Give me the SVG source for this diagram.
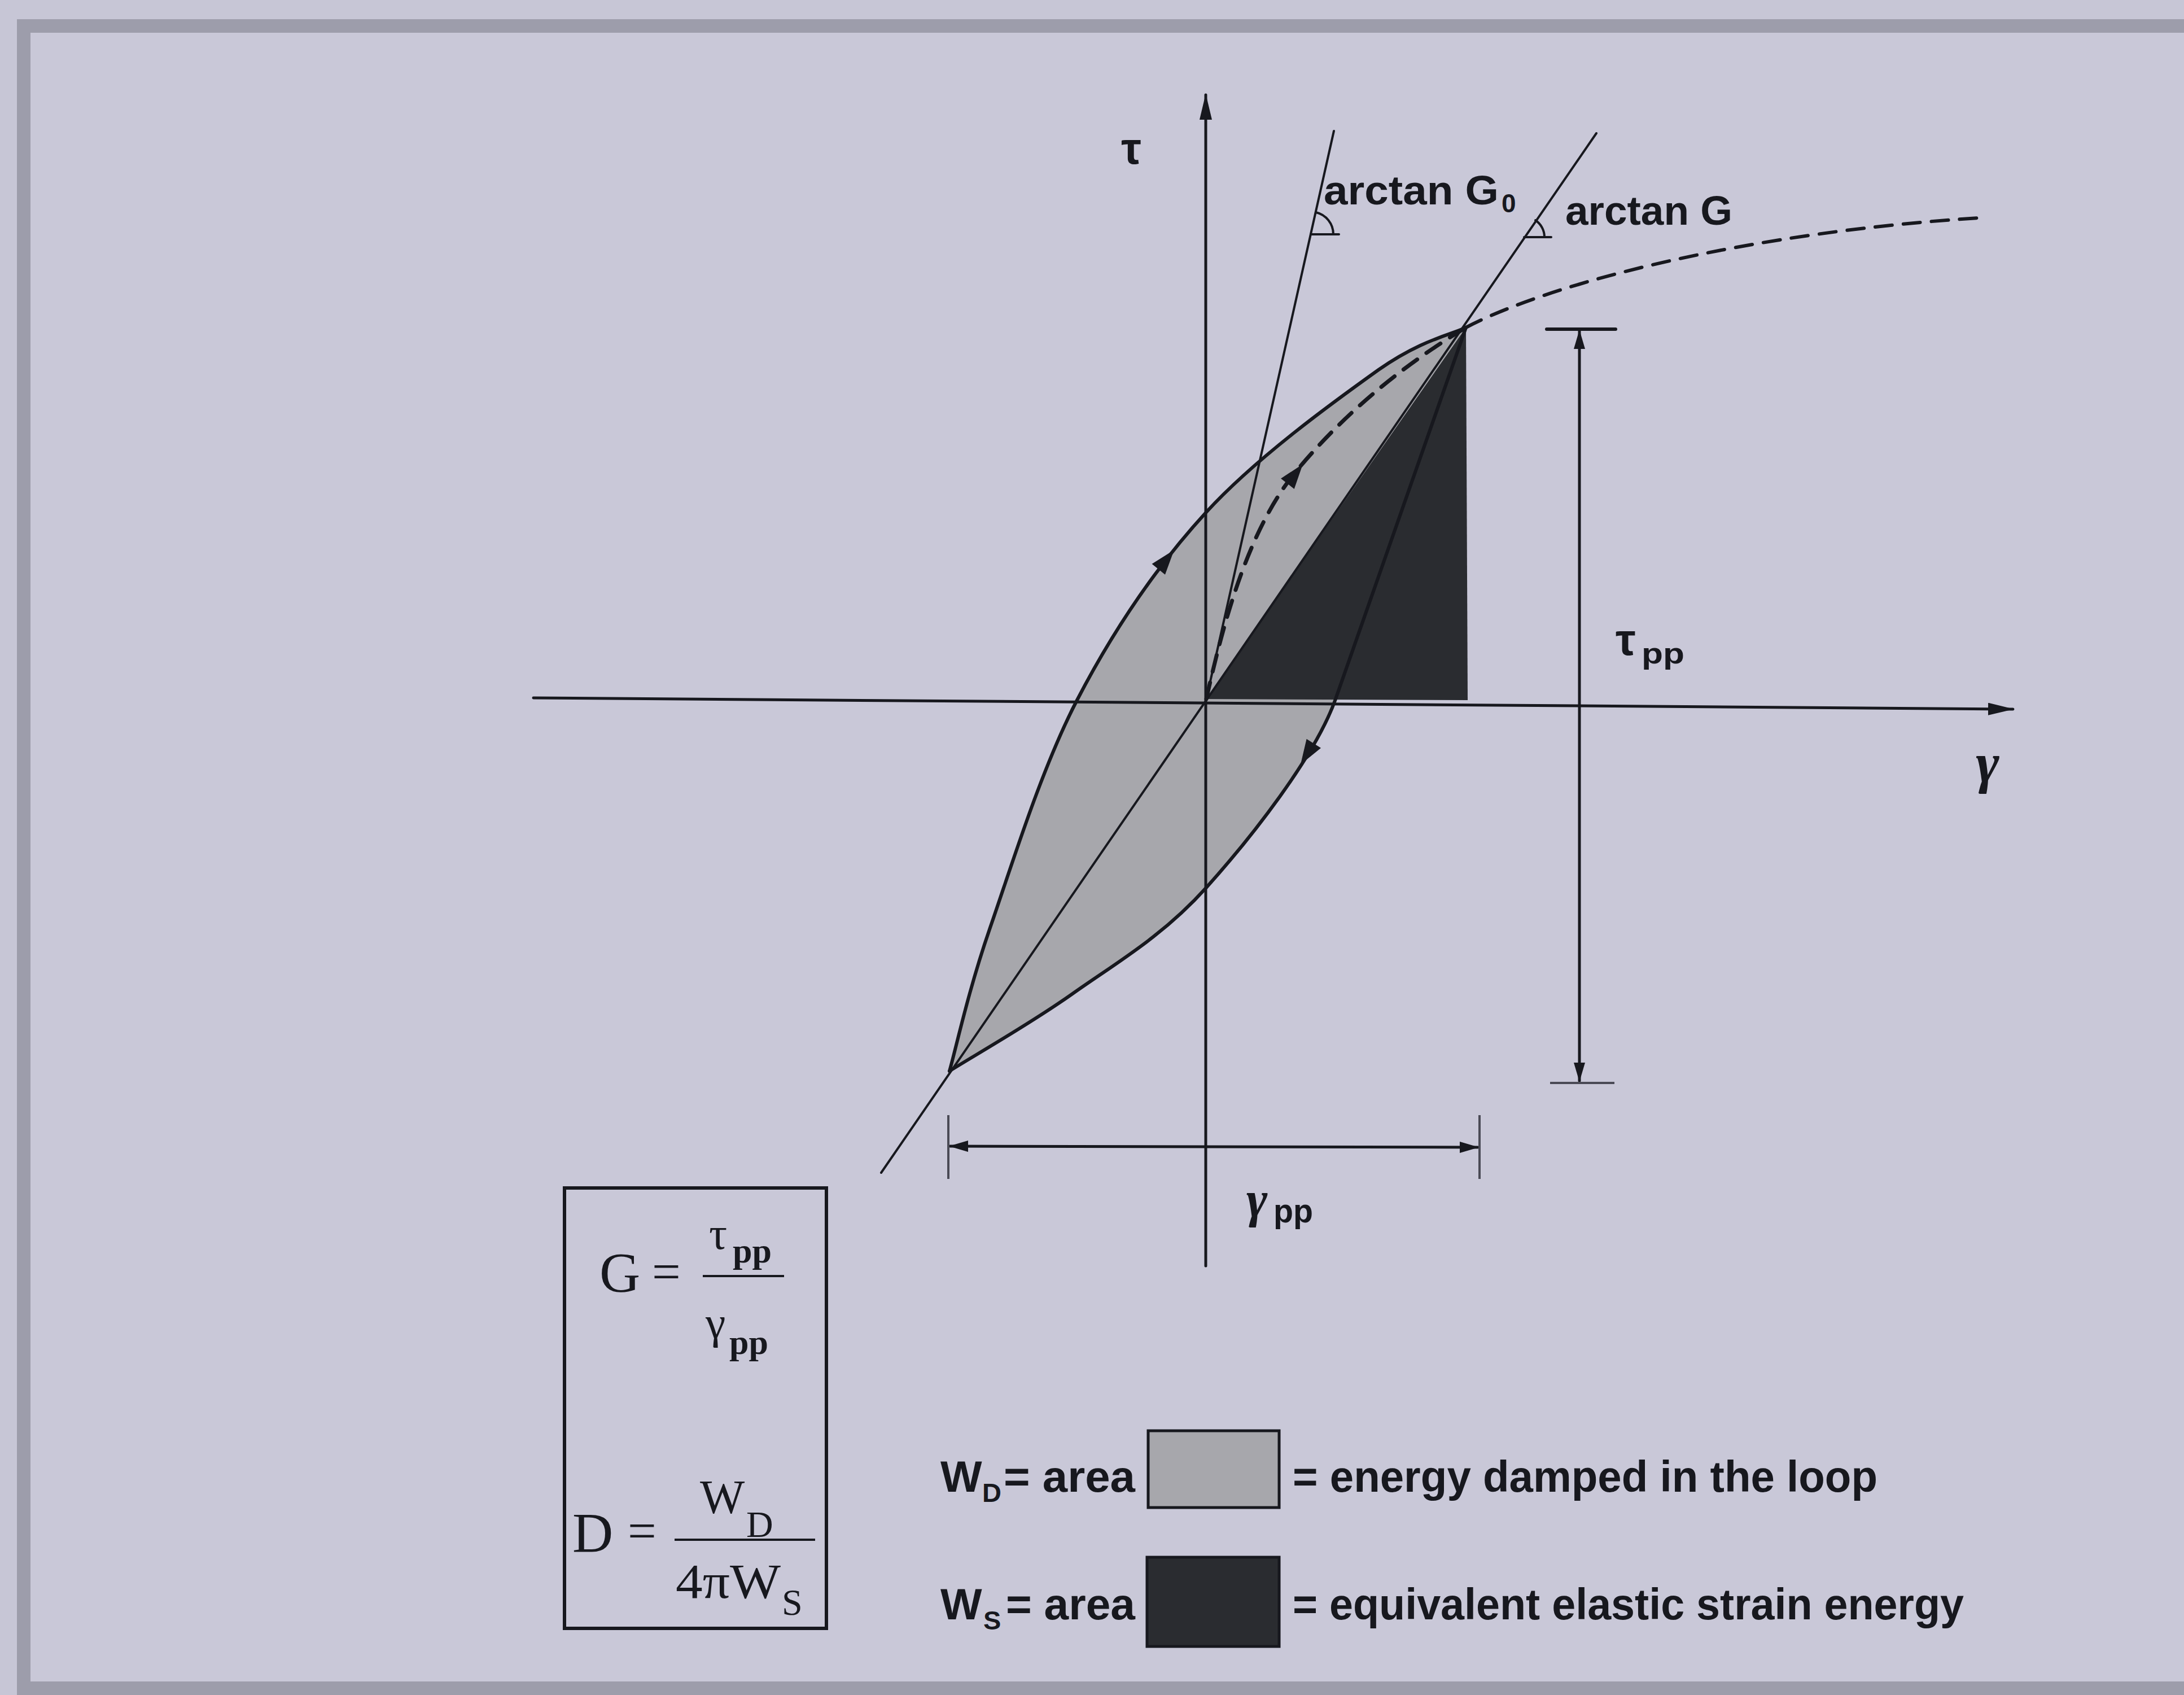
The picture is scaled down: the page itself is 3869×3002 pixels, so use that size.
<svg xmlns="http://www.w3.org/2000/svg" width="3869" height="3002" viewBox="0 0 3869 3002">
<defs>
<style>
.ln{stroke:#17181e;fill:none;stroke-linecap:round;stroke-linejoin:round}
.sans{font-family:"Liberation Sans",Arial,sans-serif;font-weight:bold;fill:#17181e}
.serif{font-family:"Liberation Serif","Times New Roman",serif;fill:#17181e}
.dash{stroke-dasharray:30 20}
</style>
<marker id="ah" markerUnits="userSpaceOnUse" markerWidth="46" markerHeight="22" refX="44" refY="11" orient="auto-start-reverse">
<path d="M0,0 L46,11 L0,22 z" fill="#17181e"/>
</marker>
<marker id="ahs" markerUnits="userSpaceOnUse" markerWidth="34" markerHeight="20" refX="32" refY="10" orient="auto-start-reverse">
<path d="M0,0 L34,10 L0,20 z" fill="#17181e"/>
</marker>
<path id="tri" d="M0,0 L-44,-15 L-44,15 z" fill="#17181e"/>
</defs>
<rect x="0" y="0" width="3869" height="3002" fill="#c7c6d6"/>
<rect x="42" y="46" width="3900" height="2944" fill="#c9c8d8" stroke="#9d9dab" stroke-width="24"/>

<g id="loop">
<path d="M1682,1897 C1694,1855 1715,1756 1753,1646 C1791,1537 1844,1363 1908,1240 C1972,1117 2048,1004 2137,907 C2226,810 2365,710 2442,655 C2519,601 2571,593 2597,580 L2366,1238 C2330,1340 2215,1485 2137,1572 C2059,1659 1976,1706 1900,1760 C1824,1814 1718,1874 1682,1897 Z" fill="#a7a7ac"/>
<path id="ws" d="M2137,1238 L2597,580 L2600,1240 Z" fill="#2a2c30"/>
</g>

<g id="connectors">
<line class="ln" x1="945" y1="1236" x2="3566" y2="1256" stroke-width="5" marker-end="url(#ah)"/>
<line class="ln" x1="2136" y1="2242" x2="2136" y2="168" stroke-width="5" marker-end="url(#ah)"/>
<line class="ln" x1="1561" y1="2077" x2="2828" y2="236" stroke-width="4"/>
<line class="ln" x1="2137" y1="1238" x2="2363" y2="232" stroke-width="4"/>
<path class="ln" stroke-width="6" d="M1682,1897 C1694,1855 1715,1756 1753,1646 C1791,1537 1844,1363 1908,1240 C1972,1117 2048,1004 2137,907 C2226,810 2365,710 2442,655 C2519,601 2571,593 2597,580"/>
<path class="ln" stroke-width="6" d="M2597,580 L2366,1238 C2330,1340 2215,1485 2137,1572 C2059,1659 1976,1706 1900,1760 C1824,1814 1718,1874 1682,1897"/>
<path class="ln dash" stroke-width="7" d="M2137,1238 C2170,1090 2215,930 2300,830 C2380,735 2480,650 2597,580"/>
<path class="ln dash" stroke-width="6" d="M2597,580 C2750,500 3100,410 3520,385"/>
<use href="#tri" transform="translate(2080,974) rotate(-51)"/>
<use href="#tri" transform="translate(2304,1354) rotate(122)"/>
<use href="#tri" transform="translate(2308,822) rotate(-52)"/>
<path class="ln" stroke-width="4" d="M2322,415 L2372,415 M2362,415 A40,40 0 0 0 2331,376"/>
<path class="ln" stroke-width="4" d="M2700,420 L2748,420 M2736,420 A36,36 0 0 0 2720,390"/>
<line class="ln" x1="2798" y1="586" x2="2798" y2="1914" stroke-width="5" marker-start="url(#ahs)" marker-end="url(#ahs)"/>
<line class="ln" x1="2740" y1="583" x2="2862" y2="583" stroke-width="6"/>
<line x1="2746" y1="1918" x2="2860" y2="1918" stroke="#4a4a55" stroke-width="4"/>
<line class="ln" x1="1683" y1="2030" x2="2618" y2="2032" stroke-width="5" marker-start="url(#ahs)" marker-end="url(#ahs)"/>
<line x1="1680" y1="1975" x2="1680" y2="2088" stroke="#4a4a55" stroke-width="4"/>
<line x1="2621" y1="1975" x2="2621" y2="2088" stroke="#4a4a55" stroke-width="4"/>
</g>

<g id="labels">
<text class="sans" x="2004" y="290" font-size="80" text-anchor="middle">τ</text>
<text class="serif" x="3521" y="1385" font-size="100" font-style="italic" font-weight="bold" text-anchor="middle">γ</text>
<text class="sans" x="2345" y="362" font-size="72" textLength="310" lengthAdjust="spacingAndGlyphs">arctan G</text>
<text class="sans" x="2660" y="376" font-size="46">0</text>
<text class="sans" x="2773" y="398" font-size="72" textLength="296" lengthAdjust="spacingAndGlyphs">arctan G</text>
<text class="sans" x="2862" y="1160" font-size="80">τ</text>
<text class="sans" x="2908" y="1175" font-size="52" textLength="76" lengthAdjust="spacingAndGlyphs">pp</text>
<text class="serif" x="2208" y="2155" font-size="90" font-style="italic" font-weight="bold">γ</text>
<text class="sans" x="2256" y="2165" font-size="60" textLength="70" lengthAdjust="spacingAndGlyphs">pp</text>
</g>

<g id="formula-box">
<rect x="1000" y="2104" width="464" height="780" fill="none" stroke="#17181e" stroke-width="6"/>
<text class="serif" x="1062" y="2287" font-size="100">G</text>
<text class="serif" x="1155" y="2283" font-size="90">=</text>
<line x1="1245" y1="2260" x2="1389" y2="2260" stroke="#17181e" stroke-width="4"/>
<text class="serif" x="1256" y="2212" font-size="80">τ</text>
<text class="serif" x="1298" y="2236" font-size="62" font-weight="bold">pp</text>
<text class="serif" x="1250" y="2370" font-size="80">γ</text>
<text class="serif" x="1292" y="2398" font-size="62" font-weight="bold">pp</text>
<text class="serif" x="1014" y="2748" font-size="100">D</text>
<text class="serif" x="1112" y="2742" font-size="90">=</text>
<line x1="1195" y1="2727" x2="1444" y2="2727" stroke="#17181e" stroke-width="4"/>
<text class="serif" x="1240" y="2680" font-size="84">W</text>
<text class="serif" x="1322" y="2722" font-size="66">D</text>
<text class="serif" x="1197" y="2830" font-size="86" textLength="186" lengthAdjust="spacingAndGlyphs">4πW</text>
<text class="serif" x="1385" y="2860" font-size="66">S</text>
</g>

<g id="legend-wd">
<text class="sans" x="1666" y="2642" font-size="78">W</text>
<text class="sans" x="1740" y="2660" font-size="47">D</text>
<text class="sans" x="1778" y="2642" font-size="78" textLength="233" lengthAdjust="spacingAndGlyphs">= area</text>
<rect x="2034" y="2534" width="232" height="136" fill="#a7a7ac" stroke="#17181e" stroke-width="5"/>
<text class="sans" x="2290" y="2642" font-size="78" textLength="1036" lengthAdjust="spacingAndGlyphs">= energy damped in the loop</text>
</g>
<g id="legend-ws">
<text class="sans" x="1666" y="2868" font-size="78">W</text>
<text class="sans" x="1742" y="2886" font-size="47">S</text>
<text class="sans" x="1782" y="2868" font-size="78" textLength="229" lengthAdjust="spacingAndGlyphs">= area</text>
<rect x="2032" y="2758" width="234" height="158" fill="#2a2c30" stroke="#17181e" stroke-width="5"/>
<text class="sans" x="2290" y="2868" font-size="78" textLength="1189" lengthAdjust="spacingAndGlyphs">= equivalent elastic strain energy</text>
</g>
</svg>
